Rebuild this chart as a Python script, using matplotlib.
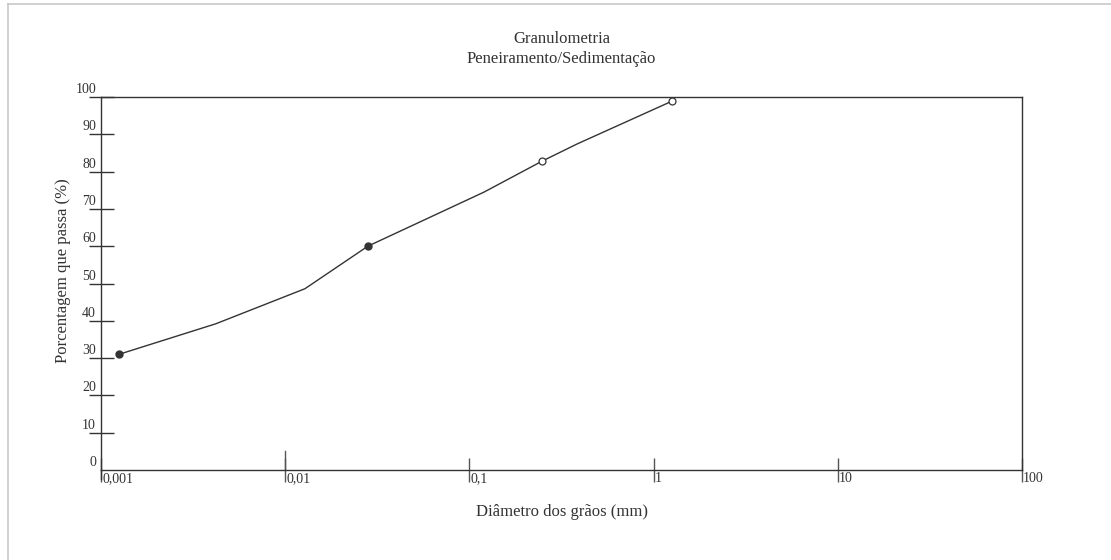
import matplotlib
matplotlib.use("Agg")
import matplotlib.pyplot as plt
import matplotlib.transforms as mtransforms
from matplotlib.lines import Line2D

# curve data
diametro = [0.00125, 0.0042, 0.0128, 0.0281, 0.12, 0.248, 0.384, 1.26]
passante = [31.0, 39.2, 48.6, 60.0, 74.5, 82.8, 87.4, 98.9]
cheios = [0, 3]      # filled markers (sedimentação)
vazios = [5, 7]      # open markers (peneiramento)

x_ticks = [0.001, 0.01, 0.1, 1, 10, 100]
x_labels = ["0,001", "0,01", "0,1", "1", "10", "100"]
y_ticks = [0, 10, 20, 30, 40, 50, 60, 70, 80, 90, 100]

cor = "#333333"
plt.rcParams["font.family"] = ["Liberation Serif", "DejaVu Serif"]

fig = plt.figure(figsize=(11.11, 5.6), dpi=100)
W, H = 1111, 560
ax = fig.add_axes([101 / W, 1 - 470 / H, (1022 - 101) / W, (470 - 97) / H])

ax.plot(diametro, passante, color=cor, lw=1.0, zorder=2)
ax.plot([diametro[i] for i in cheios], [passante[i] for i in cheios], "o",
        color=cor, ms=5, zorder=3)
ax.plot([diametro[i] for i in vazios], [passante[i] for i in vazios], "o",
        mfc="white", mec=cor, mew=0.9, ms=5, zorder=3)

ax.set_xscale("log")
ax.set_xlim(0.001, 100)
ax.set_ylim(0, 100)
ax.minorticks_off()

for s in ax.spines.values():
    s.set_color(cor)
    s.set_linewidth(1.0)

ax.set_xticks(x_ticks)
ax.set_xticklabels([])
ax.set_yticks(y_ticks)
ax.set_yticklabels([])
ax.tick_params(axis="x", direction="inout", length=17, width=1.0, color="#555555")
ax.tick_params(axis="y", direction="inout", length=18, width=1.0, color=cor)
ax.yaxis.get_major_ticks()[0].tick1line.set_visible(False)

# longer tick above the axis at 0,01
ax.plot([0.01, 0.01], [0, 5], color="#555555", lw=1.0, clip_on=False)
# left spine goes a bit below the axis
ax.plot([0.001, 0.001], [0, -2.3], color=cor, lw=1.0, clip_on=False)

# tick labels
ytr = mtransforms.offset_copy(ax.get_yaxis_transform(), fig=fig, x=-5, y=1, units="dots")
for v in y_ticks:
    ax.text(0, v, str(v), transform=ytr, ha="right", va="bottom",
            fontsize=10, color=cor)
xtr = mtransforms.offset_copy(ax.get_xaxis_transform(), fig=fig, x=1, y=-2, units="dots")
for v, lab in zip(x_ticks, x_labels):
    ax.text(v, 0, lab, transform=xtr, ha="left", va="top", fontsize=10, color=cor)

fig.text(561.5 / W, 1 - 39 / H, "Granulometria", ha="center", va="center",
         fontsize=12, color=cor)
fig.text(561.5 / W, 1 - 59 / H, "Peneiramento/Sedimentação", ha="center",
         va="center", fontsize=12, color=cor)
fig.text(561.5 / W, 1 - 512 / H, "Diâmetro dos grãos (mm)", ha="center",
         va="center", fontsize=12, color=cor)
fig.text(63 / W, 1 - 271 / H, "Porcentagem que passa (%)", ha="center",
         va="center", rotation=90, fontsize=12, color=cor)

# light frame at top and left
fig.add_artist(Line2D([8 / W, 1], [1 - 4 / H, 1 - 4 / H], transform=fig.transFigure,
                      color="#c8c8c8", lw=1.2))
fig.add_artist(Line2D([8 / W, 8 / W], [0, 1 - 4 / H], transform=fig.transFigure,
                      color="#c8c8c8", lw=1.2))

fig.savefig("out.png", dpi=100)
